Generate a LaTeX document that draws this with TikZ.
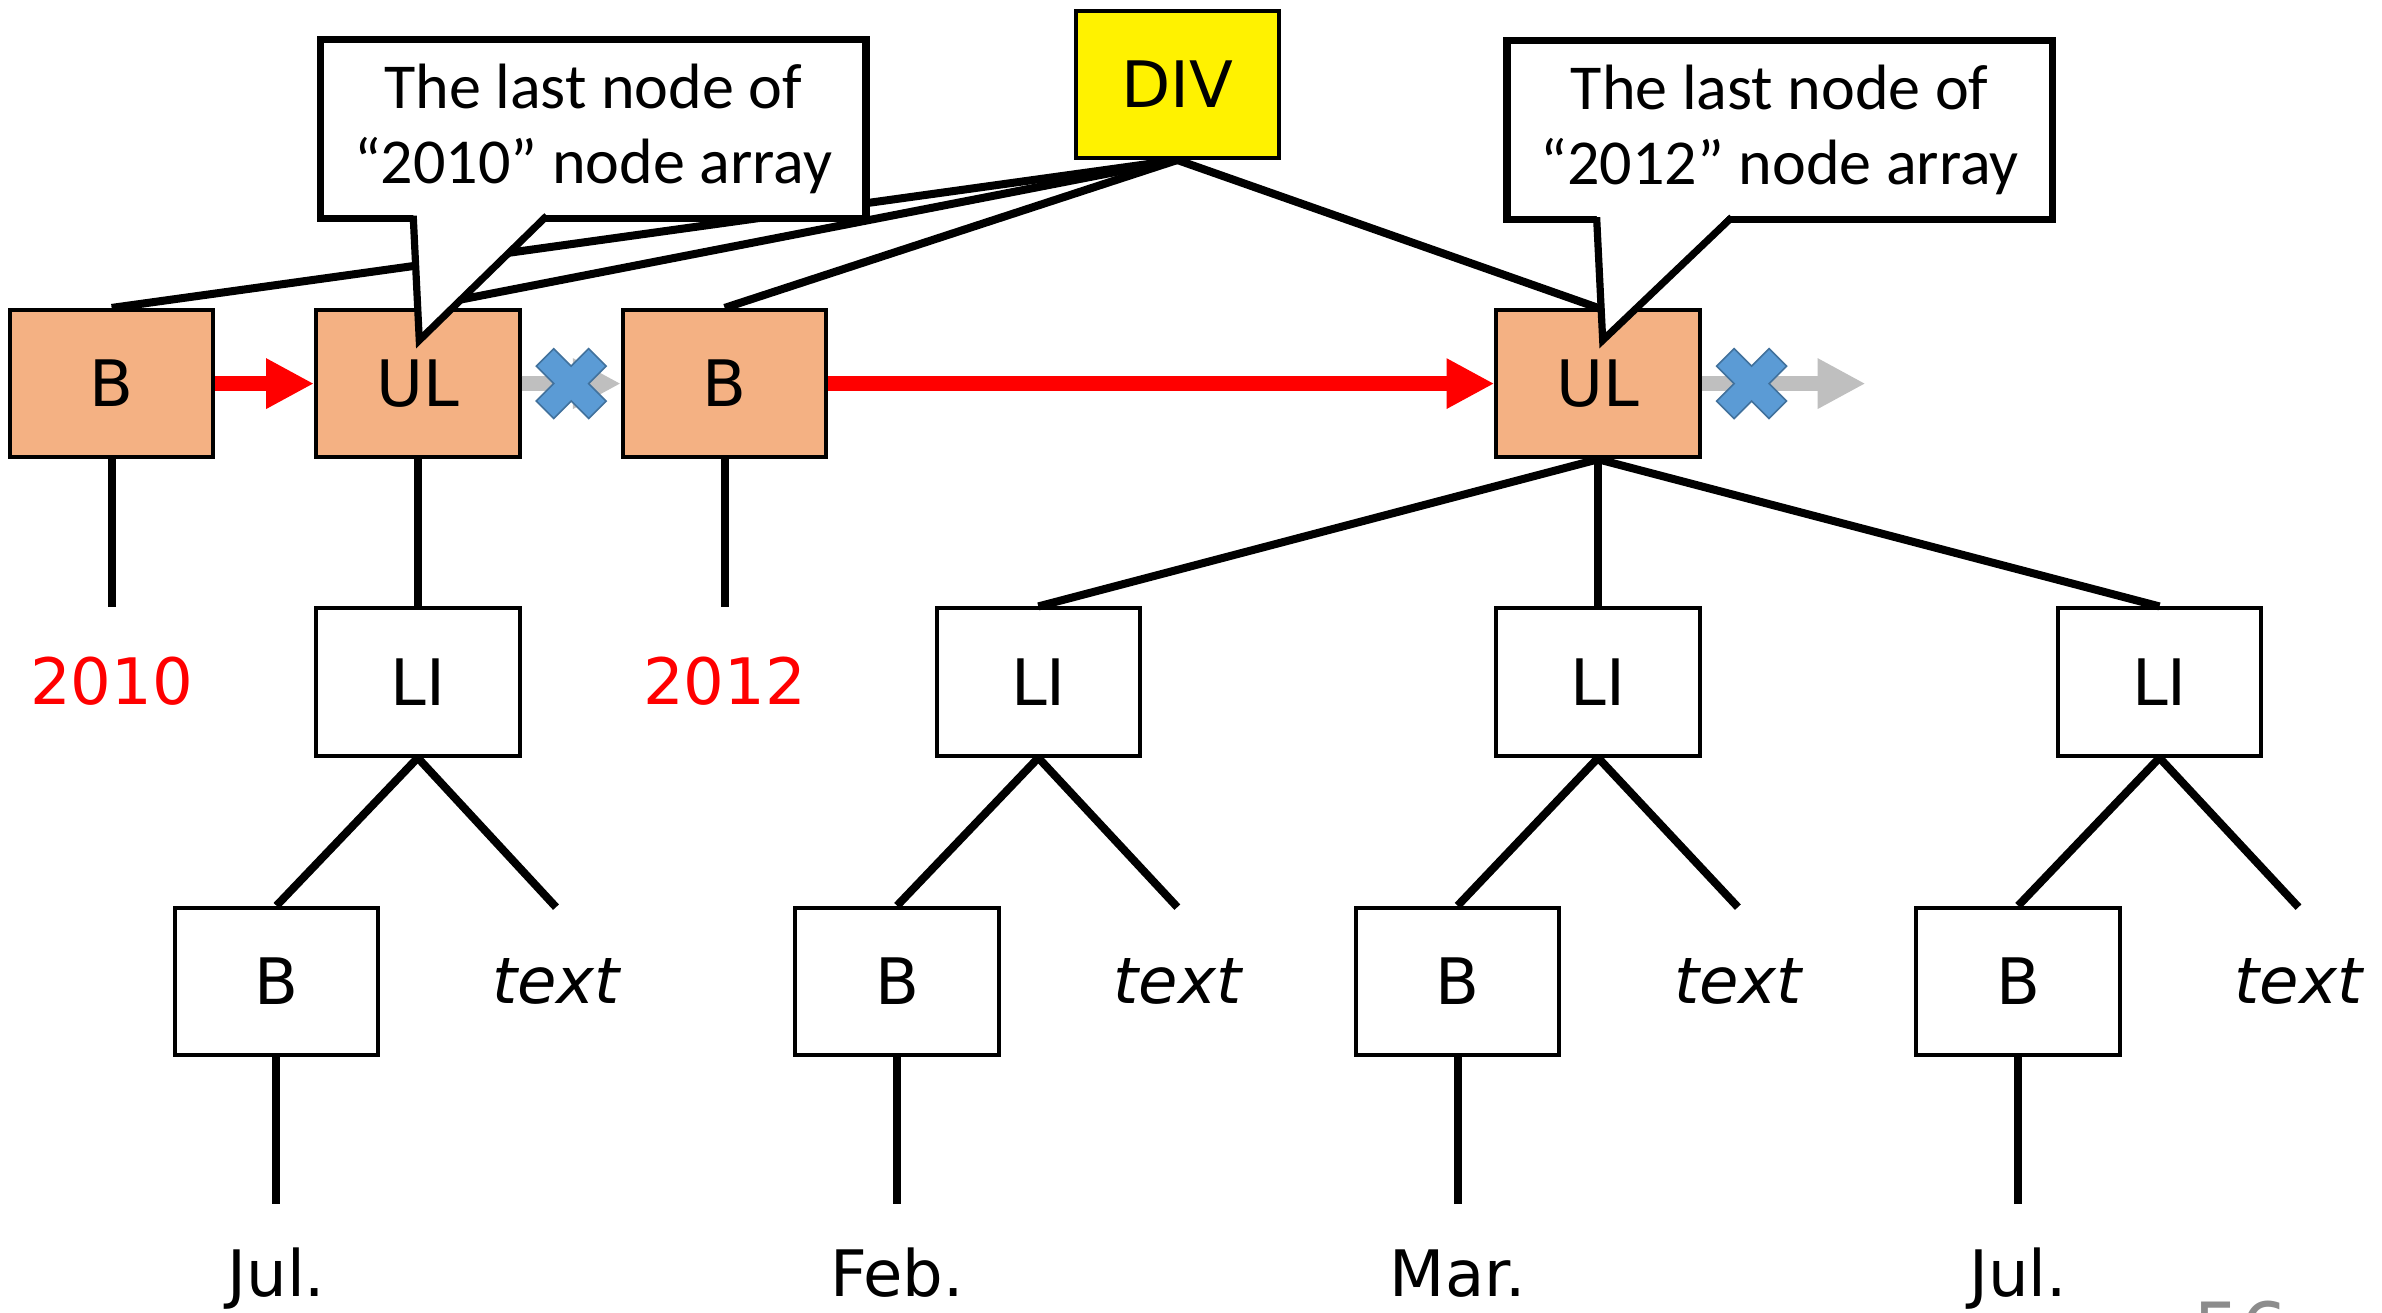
\documentclass[tikz,border=0pt]{standalone}
\usepackage{fontspec}
\setmainfont{DejaVu Sans}
\newfontfamily\calloutfont{Carlito}
\usetikzlibrary{arrows.meta}

\definecolor{boxorange}{HTML}{F4B183}
\definecolor{crossblue}{HTML}{5B9BD5}
\definecolor{crossedge}{HTML}{41719C}
\definecolor{linkgray}{HTML}{BFBFBF}
\definecolor{pagegray}{HTML}{8C8C8C}

\begin{document}
\begin{tikzpicture}[
  font=\fontsize{24}{29}\selectfont,
  plainbox/.style={
    draw=black, fill=white, line width=1.5pt,
    minimum width=2.68cm, minimum height=1.94cm, inner sep=0pt
  },
  hitbox/.style={plainbox, fill=boxorange},
  rootbox/.style={plainbox, fill=yellow},
  ghostbox/.style={
    minimum width=2.68cm, minimum height=1.94cm, inner sep=0pt
  },
  yearlabel/.style={ghostbox, text=red},
  monthlabel/.style={
    anchor=base, inner sep=0pt, text height=1.21cm, text depth=0pt
  },
  notebox/.style={
    draw=black, fill=white, line width=2.7pt,
    minimum width=7.18cm, minimum height=2.36cm, align=center,
    font=\calloutfont\fontsize{24}{28}\selectfont
  },
  tailline/.style={draw=black, line width=2.7pt},
  wire/.style={line width=3pt},
  redlink/.style={red, line width=5.9pt,
    -{Triangle[length=6.3mm, width=6.2mm]}},
  greylink/.style={linkgray, line width=5.9pt,
    -{Triangle[length=6.3mm, width=6.2mm]}},
  nolink/.pic={
    \filldraw[fill=crossblue, draw=crossedge, line width=0.6pt]
      (0,0.23) -- (0.23,0.46) -- (0.46,0.23) -- (0.23,0)
      -- (0.46,-0.23) -- (0.23,-0.46) -- (0,-0.23) -- (-0.23,-0.46)
      -- (-0.46,-0.23) -- (-0.23,0) -- (-0.46,0.23) -- (-0.23,0.46) -- cycle;
  },
]
\useasboundingbox (0,0) rectangle (31.36,-17.28);

% top row
\node[rootbox] (div) at (15.50,-1.11) {DIV};
\node[hitbox]  (b1)  at (1.47,-5.05)  {B};
\node[hitbox]  (ul1) at (5.50,-5.05)  {UL};
\node[hitbox]  (b2)  at (9.54,-5.05)  {B};
\node[hitbox]  (ul2) at (21.04,-5.05) {UL};

\node[yearlabel] (y1) at (1.47,-8.97) {2010};
\node[yearlabel] (y2) at (9.54,-8.97) {2012};

% list items
\node[plainbox] (li1) at (5.50,-8.98)  {LI};
\node[plainbox] (li2) at (13.67,-8.98) {LI};
\node[plainbox] (li3) at (21.04,-8.98) {LI};
\node[plainbox] (li4) at (28.43,-8.98) {LI};

\node[plainbox] (bb1) at (3.64,-12.92)  {B};
\node[plainbox] (bb2) at (11.81,-12.92) {B};
\node[plainbox] (bb3) at (19.19,-12.92) {B};
\node[plainbox] (bb4) at (26.57,-12.92) {B};

\node[ghostbox] (tx1) at (7.32,-12.92)  {\itshape text};
\node[ghostbox] (tx2) at (15.50,-12.92) {\itshape text};
\node[ghostbox] (tx3) at (22.88,-12.92) {\itshape text};
\node[ghostbox] (tx4) at (30.26,-12.92) {\itshape text};

\node[monthlabel] (m1) at (3.64,-17.07)  {Jul.};
\node[monthlabel] (m2) at (11.81,-17.07) {Feb.};
\node[monthlabel] (m3) at (19.19,-17.07) {Mar.};
\node[monthlabel] (m4) at (26.57,-17.07) {Jul.};

% tree lines
\draw[wire] (div.south) -- (b1.north);
\draw[wire] (div.south) -- (ul1.north);
\draw[wire] (div.south) -- (b2.north);
\draw[wire] (div.south) -- (ul2.north);
\draw[wire] (b1.south) -- (y1.north);
\draw[wire] (ul1.south) -- (li1.north);
\draw[wire] (b2.south) -- (y2.north);
\draw[wire] (ul2.south) -- (li2.north);
\draw[wire] (ul2.south) -- (li3.north);
\draw[wire] (ul2.south) -- (li4.north);
\draw[wire] (li1.south) -- (bb1.north);
\draw[wire] (li1.south) -- (tx1.north);
\draw[wire] (li2.south) -- (bb2.north);
\draw[wire] (li2.south) -- (tx2.north);
\draw[wire] (li3.south) -- (bb3.north);
\draw[wire] (li3.south) -- (tx3.north);
\draw[wire] (li4.south) -- (bb4.north);
\draw[wire] (li4.south) -- (tx4.north);
\draw[wire] (bb1.south) -- (m1.north);
\draw[wire] (bb2.south) -- (m2.north);
\draw[wire] (bb3.south) -- (m3.north);
\draw[wire] (bb4.south) -- (m4.north);

% callouts
\node[notebox] (note1) at (7.81,-1.70)  {The last node of\\“2010” node array};
\node[notebox] (note2) at (23.43,-1.71) {The last node of\\“2012” node array};
\fill[white] (5.44,-2.77) -- (5.52,-4.48) -- (7.20,-2.77) -- cycle;
\draw[tailline] (5.44,-2.84) -- (5.52,-4.48) -- (7.20,-2.84);
\fill[white] (21.02,-2.79) -- (21.10,-4.48) -- (22.80,-2.79) -- cycle;
\draw[tailline] (21.02,-2.86) -- (21.10,-4.48) -- (22.80,-2.86);

% sibling links
\coordinate (tail) at (24.56,-5.05);
\draw[redlink] (b1.east) -- (ul1.west);
\draw[redlink] (b2.east) -- (ul2.west);
\draw[greylink] (ul1.east) -- (b2.west);
\draw[greylink] (ul2.east) -- (tail);
\pic at (7.52,-5.05) {nolink};
\pic at (23.06,-5.05) {nolink};

\node[text=pagegray, font=\fontsize{28}{34}\selectfont] (page) at (29.5,-17.5) {56};

\end{tikzpicture}
\end{document}
